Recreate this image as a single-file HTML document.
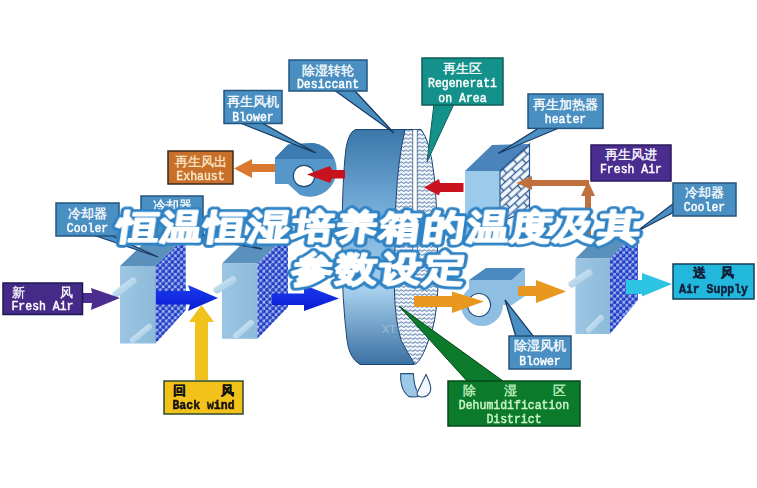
<!DOCTYPE html>
<html><head><meta charset="utf-8">
<style>
html,body{margin:0;padding:0;background:#fff;width:757px;height:488px;overflow:hidden}
svg{display:block;filter:blur(0.45px)}
.cn{font-family:"Liberation Sans",sans-serif;font-size:13px;fill:#fff;stroke:#fff;stroke-width:0.3px;font-weight:normal}
.en{font-family:"Liberation Mono",monospace;font-size:11.5px;fill:#fff;stroke:#fff;stroke-width:0.45px;font-weight:normal}
.title{font-family:"Liberation Sans",sans-serif;font-weight:700;font-size:35px}
.to{fill:#2f83c4;stroke:#2f83c4;stroke-width:7.5px;stroke-linejoin:round}
.tw{fill:#fff;stroke:#fff;stroke-width:1.8px;stroke-linejoin:round}
.lb{fill:#4a8fc2;stroke:#24547e;stroke-width:1.5}
.ptr{fill:#4a8fc2;stroke:#1a3c64;stroke-width:1.3}
</style></head>
<body>
<svg width="757" height="488" viewBox="0 0 757 488">
<defs>
  <pattern id="dots" width="6.1" height="6.2" patternUnits="userSpaceOnUse">
    <rect width="6.1" height="6.2" fill="#a8c0f8"/>
    <circle cx="1.5" cy="1.5" r="1.9" fill="#1c34bc"/>
    <circle cx="4.55" cy="4.6" r="1.9" fill="#1c34bc"/>
    <circle cx="7.6" cy="1.5" r="1.9" fill="#1c34bc"/>
    <circle cx="-1.55" cy="4.6" r="1.9" fill="#1c34bc"/>
    <circle cx="1.5" cy="7.7" r="1.9" fill="#1c34bc"/>
    <circle cx="4.55" cy="-1.6" r="1.9" fill="#1c34bc"/>
    <circle cx="1.1" cy="1.0" r="0.6" fill="#5a78e8"/>
    <circle cx="4.15" cy="4.1" r="0.6" fill="#5a78e8"/>
  </pattern>
  <pattern id="brick" width="14" height="11" patternUnits="userSpaceOnUse" patternTransform="translate(500,171) rotate(-42)">
    <rect width="14" height="11" fill="#f2f6fb"/>
    <path d="M0 0.7H14M0 6.2H14M3.5 0.7V6.2M10.5 6.2V11.7" stroke="#2a5a92" stroke-width="1.3" fill="none"/>
  </pattern>
  <pattern id="wave" width="4.6" height="4" patternUnits="userSpaceOnUse">
    <rect width="4.6" height="4" fill="#f2f6fb"/>
    <path d="M0 2.6Q1.15 0.9 2.3 2.6T4.6 2.6" stroke="#2a5a94" stroke-width="0.85" fill="none"/>
  </pattern>
  <linearGradient id="wheelG" x1="0" y1="129" x2="0" y2="365" gradientUnits="userSpaceOnUse">
    <stop offset="0" stop-color="#3a76a8"/>
    <stop offset="0.3" stop-color="#6ea6d4"/>
    <stop offset="0.68" stop-color="#a8d0ee"/>
    <stop offset="1" stop-color="#3a70a2"/>
  </linearGradient>
  <linearGradient id="frontG" x1="0" y1="0" x2="1" y2="0">
    <stop offset="0" stop-color="#9cc6e4"/>
    <stop offset="1" stop-color="#8cbad8"/>
  </linearGradient>
  <linearGradient id="pipeG" x1="0" y1="0" x2="1" y2="1">
    <stop offset="0" stop-color="#d8ecf8"/>
    <stop offset="1" stop-color="#9cc4e0"/>
  </linearGradient>
  <linearGradient id="blueA" x1="0" y1="0" x2="0" y2="1">
    <stop offset="0" stop-color="#1a3cf0"/>
    <stop offset="1" stop-color="#0a1ad0"/>
  </linearGradient>
</defs>

<!-- ============ COOLER 1 ============ -->
<g>
  <polygon points="120,266 150,237 185.6,237 155.5,266" fill="#5a90bc"/>
  <rect x="120" y="266" width="35.5" height="77.5" fill="url(#frontG)"/>
  <polygon points="155.5,266 185.6,237 185.9,310 155.5,343.5" fill="url(#dots)"/>
  <line x1="116" y1="294" x2="133" y2="281" stroke="url(#pipeG)" stroke-width="7" stroke-linecap="round"/>
  <line x1="133" y1="340" x2="149" y2="327" stroke="url(#pipeG)" stroke-width="6" stroke-linecap="round"/>
</g>
<!-- ============ COOLER 2 ============ -->
<g>
  <polygon points="222,263.5 252,234 288,234 257.4,263.5" fill="#5a90bc"/>
  <rect x="222" y="263.5" width="35.4" height="75.3" fill="url(#frontG)"/>
  <polygon points="257.4,263.5 288,234 288,307 257.4,338.8" fill="url(#dots)"/>
  <line x1="217" y1="290" x2="233" y2="280" stroke="url(#pipeG)" stroke-width="7" stroke-linecap="round"/>
  <line x1="236" y1="336" x2="251" y2="323" stroke="url(#pipeG)" stroke-width="6" stroke-linecap="round"/>
</g>
<!-- ============ COOLER 3 ============ -->
<g>
  <polygon points="575.4,258.5 604,230 638,230 610,258.5" fill="#5a90bc"/>
  <rect x="575.4" y="258.5" width="34.6" height="75.5" fill="url(#frontG)"/>
  <polygon points="610,258.5 638,230 638,300 610,334" fill="url(#dots)"/>
  <line x1="572" y1="284" x2="589" y2="273" stroke="url(#pipeG)" stroke-width="7" stroke-linecap="round"/>
  <line x1="589" y1="330" x2="601" y2="318" stroke="url(#pipeG)" stroke-width="6" stroke-linecap="round"/>
</g>

<!-- ============ HEATER ============ -->
<g>
  <polygon points="465,171 492,145 529.5,144 500,171" fill="#4a84ba"/>
  <rect x="465" y="171" width="35" height="62" fill="#9ccaea"/>
  <polygon points="500,171 529.5,144 529.5,210 500,222" fill="url(#brick)" stroke="#2a5a92" stroke-width="1.2"/>
</g>

<!-- ============ WHEEL ============ -->
<g>
  <path d="M356,129.5 L421,129.5 L437,250 L414,364.5 L360,364.5 Q349,358 347,340 Q342,300 342,250 Q342,180 346,148 Q349,131 356,129.5 Z" fill="url(#wheelG)" stroke="#1e4474" stroke-width="1"/>
  <path d="M405,129.5 L421,129.5 Q430,140 434,175 Q437.5,200 437.8,290 Q436,325 428.6,340 Q422,360 415,364.5 Q406,350 401,340 Q395,320 394.4,290 Q395,220 396,200 Q398,160 405,129.5 Z" fill="url(#wave)" stroke="#1e4474" stroke-width="1"/>
  <path d="M412.7,129.5 L417.3,129.5 L417.3,260 L412.7,260 Z" fill="#fff" stroke="#1e4474" stroke-width="0.7"/>
  <text x="382" y="333" font-family="Liberation Sans" font-size="11" fill="#d8e8f4" opacity="0.4">XT</text>
  <path d="M400.7,373.6 L413.4,373.6 Q414,388 418.5,393 Q421,397 414,397 L409,396.6 Q402,392 400.7,380 Z" fill="#9cc8e8" stroke="#24507a" stroke-width="1.1"/>
  <path d="M426,374.4 Q432,386 430.5,391 Q428,397.5 421,397 Q415,396 418,391 Z" fill="#f4f8fc" stroke="#24507a" stroke-width="1.1"/>
</g>

<!-- ============ BLOWER 1 (regen) ============ -->
<g>
  <clipPath id="b1c"><path d="M275,158 L288,144.5 L313,143 A27,27 0 1 1 300,195 L288,184 L275,184 Z"/></clipPath>
  <path d="M275,158 L288,144.5 L313,143 A27,27 0 1 1 300,195 L288,184 L275,184 Z" fill="#5597c8"/>
  <rect x="270" y="140" width="80" height="19" fill="#3d7cb0" clip-path="url(#b1c)"/>
  <circle cx="304" cy="176" r="10.7" fill="#fff" stroke="#1e4a78" stroke-width="1.2"/>
</g>
<!-- ============ BLOWER 2 (dehumid) ============ -->
<g>
  <circle cx="482" cy="305" r="21" fill="#8ebee2"/>
  <polygon points="469,280 512,280 525,268 525,296 512,305 469,305" fill="#8ebee2"/>
  <polygon points="469,280 486,268 525,268 512,280" fill="#4a88c0"/>
  <circle cx="479" cy="305" r="11.5" fill="#fff" stroke="#1e4a78" stroke-width="1.2"/>
</g>

<!-- ============ LABEL POINTERS ============ -->
<polygon class="ptr" points="334,90 354,90 394,133"/>
<polygon class="ptr" points="240,123 262,123 316,153"/>
<polygon points="434,104 454,104 427,162" fill="#15918b" stroke="#0e5e5a" stroke-width="1"/>
<polygon class="ptr" points="539,128 559,128 498,153.5"/>
<polygon class="ptr" points="674,203 674,212 636,232"/>
<polygon class="ptr" points="93,235 110,235 158,257"/>
<polygon class="ptr" points="185,235 205,235 262,249"/>
<polygon class="ptr" points="516,337 534,337 505,300"/>

<!-- ============ ARROWS ============ -->
<polygon points="275,164 252,164 252,159 234,168.5 252,178 252,172 275,172" fill="#d9782e"/>
<polygon points="345,170 332,170 330,166 307,174.5 330,183 332,178.5 345,178.5" fill="#c8121e"/>
<polygon points="463.5,183 440,183 439,179 424,187.5 439,195.5 440,192 463.5,192" fill="#c8121e"/>
<polygon points="589,180 532,180 532,176 516.5,183 532,190 532,186 589,186" fill="#c0703c"/>
<polygon points="585,245 585,196 581,196 588,181 595,196 591,196 591,245" fill="#c0703c"/>
<polygon points="82,293 92,293 91,288 120,298 91,310 92,303 82,303" fill="#4b2d8f"/>
<polygon points="156,291 190,291 188,285 218,298 188,311 190,304.5 156,304.5" fill="url(#blueA)"/>
<polygon points="272,293.6 304,293.6 304,285 339,298.5 304,311 304,305 272,305" fill="url(#blueA)"/>
<polygon points="195,380 195,322 189,322 201.5,305 214,322 208,322 208,380" fill="#f0c21c"/>
<polygon points="414,296 452,296 452,291.5 484,301.5 452,313 452,307 414,307" fill="#e8981e"/>
<polygon points="518,286 536,286 536,280 566,291.5 536,303 536,296 518,296" fill="#e8981e"/>
<polygon points="626,280 642,280 642,273 672,284 642,296.5 642,294 626,294" fill="#2cc4e2"/>

<!-- green pointer -->
<polygon points="467,381 503,381 399,306" fill="#0b7a2b" stroke="#064a18" stroke-width="1"/>

<!-- ============ LABELS ============ -->
<g>
  <rect class="lb" x="289" y="60" width="78" height="31"/>
  <text class="cn" x="328" y="74.5" text-anchor="middle">除湿转轮</text>
  <text class="en" transform="matrix(1,0,0,1.1,0,-8.85)" x="328" y="88.5" text-anchor="middle">Desiccant</text>

  <rect class="lb" x="224" y="90.5" width="58" height="33"/>
  <text class="cn" x="253" y="106" text-anchor="middle">再生风机</text>
  <text class="en" transform="matrix(1,0,0,1.1,0,-12.10)" x="253" y="121" text-anchor="middle">Blower</text>

  <rect x="422" y="58" width="81" height="47" fill="#15918b" stroke="#0e5e5a" stroke-width="1.5"/>
  <text class="cn" x="462.5" y="73" text-anchor="middle">再生区</text>
  <text class="en" transform="matrix(1,0,0,1.1,0,-8.70)" x="462.5" y="87" text-anchor="middle">Regenerati</text>
  <text class="en" transform="matrix(1,0,0,1.1,0,-10.20)" x="462.5" y="102" text-anchor="middle">on Area</text>

  <rect class="lb" x="528" y="94" width="75" height="34.4"/>
  <text class="cn" x="565.5" y="109" text-anchor="middle">再生加热器</text>
  <text class="en" transform="matrix(1,0,0,1.1,0,-12.30)" x="565.5" y="123" text-anchor="middle">heater</text>

  <rect x="591" y="145" width="80" height="36" fill="#4b2d8f" stroke="#2a1a5e" stroke-width="1.5"/>
  <text class="cn" x="631" y="159" text-anchor="middle">再生风进</text>
  <text class="en" transform="matrix(1,0,0,1.1,0,-17.30)" x="631" y="173" text-anchor="middle">Fresh Air</text>

  <rect class="lb" x="673" y="183" width="63" height="33"/>
  <text class="cn" x="704.5" y="197" text-anchor="middle">冷却器</text>
  <text class="en" transform="matrix(1,0,0,1.1,0,-21.10)" x="704.5" y="211" text-anchor="middle">Cooler</text>

  <rect x="168" y="151" width="65" height="33" fill="#c8702a" stroke="#3a2a1e" stroke-width="1.5"/>
  <text class="cn" x="200.5" y="166" text-anchor="middle" style="fill:#fae6c8;stroke:#fae6c8">再生风出</text>
  <text class="en" transform="matrix(1,0,0,1.1,0,-18.00)" x="200.5" y="180" text-anchor="middle" style="fill:#fae6c8;stroke:#fae6c8">Exhaust</text>

  <rect class="lb" x="56" y="203" width="63" height="33"/>
  <text class="cn" x="87.5" y="218" text-anchor="middle">冷却器</text>
  <text class="en" transform="matrix(1,0,0,1.1,0,-23.20)" x="87.5" y="232" text-anchor="middle">Cooler</text>

  <rect class="lb" x="141" y="196" width="62" height="40"/>
  <text class="cn" x="172" y="209.5" text-anchor="middle">冷却器</text>

  <rect x="3" y="283" width="79.5" height="31.5" fill="#452a88" stroke="#1c1a50" stroke-width="1.5"/>
  <text class="cn" x="18" y="296.5" text-anchor="middle">新</text><text class="cn" x="66.3" y="296.5" text-anchor="middle">风</text>
  <text class="en" transform="matrix(1,0,0,1.1,0,-31.05)" x="42.5" y="310.5" text-anchor="middle">Fresh Air</text>

  <rect x="164" y="381" width="79" height="33" fill="#f2c21a" stroke="#2c4a2e" stroke-width="1.5"/>
  <text class="cn" x="179" y="395" text-anchor="middle" style="fill:#111;stroke:#111;font-weight:bold">回</text><text class="cn" x="227.5" y="395" text-anchor="middle" style="fill:#111;stroke:#111;font-weight:bold">风</text>
  <text class="en" transform="matrix(1,0,0,1.1,0,-40.90)" x="203.5" y="409" text-anchor="middle" style="fill:#111;stroke:#111;font-weight:bold">Back wind</text>

  <rect x="448" y="381" width="132" height="45" fill="#0b7a2b" stroke="#064a18" stroke-width="1.5"/>
  <text class="cn" x="469" y="395" text-anchor="middle" style="fill:#c8f4c8;stroke:#c8f4c8">除</text><text class="cn" x="510" y="395" text-anchor="middle" style="fill:#c8f4c8;stroke:#c8f4c8">湿</text><text class="cn" x="559" y="395" text-anchor="middle" style="fill:#c8f4c8;stroke:#c8f4c8">区</text>
  <text class="en" transform="matrix(1,0,0,1.1,0,-40.90)" x="514" y="409" text-anchor="middle" style="fill:#c8f4c8;stroke:#c8f4c8">Dehumidification</text>
  <text class="en" transform="matrix(1,0,0,1.1,0,-42.30)" x="514" y="423" text-anchor="middle" style="fill:#c8f4c8;stroke:#c8f4c8">District</text>

  <rect class="lb" x="509" y="336" width="62" height="33"/>
  <text class="cn" x="540" y="350" text-anchor="middle">除湿风机</text>
  <text class="en" transform="matrix(1,0,0,1.1,0,-36.50)" x="540" y="365" text-anchor="middle">Blower</text>

  <rect x="673" y="264" width="81" height="35" fill="#22b8de" stroke="#143c5a" stroke-width="1.5"/>
  <text class="cn" x="699" y="277" text-anchor="middle" style="fill:#10203a;stroke:#10203a;font-weight:bold">送</text><text class="cn" x="727" y="277" text-anchor="middle" style="fill:#10203a;stroke:#10203a;font-weight:bold">风</text>
  <text class="en" transform="matrix(1,0,0,1.1,0,-29.30)" x="713.5" y="293" text-anchor="middle" style="fill:#10203a;stroke:#10203a;font-weight:bold">Air Supply</text>
</g>

<!-- ============ TITLE ============ -->
<g transform="translate(378,239.3) skewX(-8) scale(1.207,1)">
  <text class="title to" x="0" y="0" text-anchor="middle" letter-spacing="1.2">恒温恒湿培养箱的温度及其</text>
  <text class="title tw" x="0" y="0" text-anchor="middle" letter-spacing="1.2">恒温恒湿培养箱的温度及其</text>
</g>
<g transform="translate(378,281.3) skewX(-8) scale(1.207,1)">
  <text class="title to" x="0" y="0" text-anchor="middle" letter-spacing="1.2">参数设定</text>
  <text class="title tw" x="0" y="0" text-anchor="middle" letter-spacing="1.2">参数设定</text>
</g>
</svg>
</body></html>
